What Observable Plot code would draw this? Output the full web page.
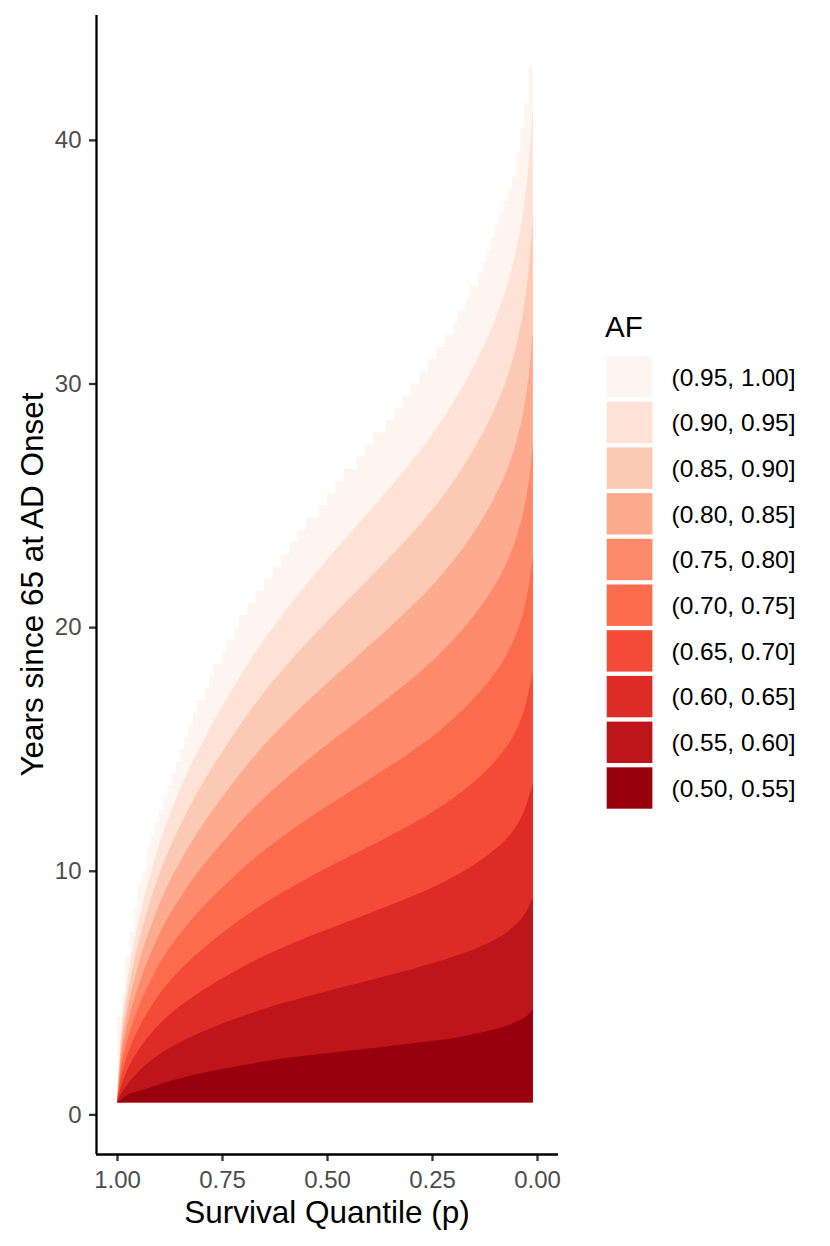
<!DOCTYPE html>
<html><head><meta charset="utf-8">
<script src="https://cdn.jsdelivr.net/npm/d3@7"></script>
<script src="https://cdn.jsdelivr.net/npm/@observablehq/plot@0.6"></script>
<style>
body{margin:0;background:#fff;}
#wrap{position:relative;width:830px;height:1246px;}
</style></head><body><div id="wrap"></div>
<script>
// ---- data ----
const quantiles = [1.00,0.99,0.98,0.97,0.96,0.95,0.94,0.92,0.90,0.87,0.84,0.80,0.75,0.70,0.65,0.60,0.55,0.50,0.45,0.40,0.35,0.30,0.25,0.20,0.15,0.10,0.07,0.05,0.03,0.02,0.01];
const floorYears = 0.5;
const bound55 = [0.5,0.6,0.75,0.85,0.9,0.95,1.0,1.1,1.23,1.39,1.53,1.69,1.86,2.02,2.17,2.3,2.41,2.51,2.61,2.71,2.81,2.91,3.01,3.13,3.3,3.5,3.65,3.8,3.97,4.1,4.3];
const bound60 = [0.5,0.85,1.10,1.35,1.56,1.74,1.91,2.20,2.46,2.78,3.05,3.37,3.72,4.04,4.33,4.59,4.83,5.06,5.28,5.50,5.72,5.95,6.20,6.47,6.78,7.18,7.50,7.80,8.20,8.50,8.90];
const bound65 = [0.5,1.17,1.65,2.03,2.34,2.61,2.87,3.30,3.69,4.17,4.58,5.06,5.58,6.06,6.50,6.89,7.25,7.59,7.92,8.25,8.58,8.93,9.30,9.74,10.25,10.88,11.37,11.82,12.48,12.99,13.6];
const bound70 = [0.5,1.56,2.20,2.70,3.12,3.48,3.82,4.40,4.92,5.56,6.10,6.74,7.44,8.08,8.66,9.18,9.66,10.12,10.56,11.00,11.44,11.90,12.40,12.98,13.66,14.50,15.16,15.76,16.64,17.32,18.2];
const bound75 = [0.5,1.95,2.75,3.38,3.90,4.35,4.78,5.50,6.15,6.95,7.63,8.43,9.30,10.10,10.83,11.48,12.08,12.65,13.20,13.75,14.30,14.88,15.50,16.23,17.08,18.13,18.95,19.70,20.80,21.65,22.9];
const bound80 = [0.5,2.34,3.30,4.05,4.68,5.22,5.73,6.60,7.38,8.34,9.15,10.11,11.16,12.12,12.99,13.77,14.49,15.18,15.84,16.50,17.16,17.85,18.60,19.47,20.49,21.75,22.74,23.64,24.96,25.98,27.5];
const bound85 = [0.5,2.73,3.85,4.73,5.46,6.09,6.69,7.70,8.61,9.73,10.68,11.80,13.02,14.14,15.16,16.07,16.91,17.71,18.48,19.25,20.02,20.83,21.70,22.72,23.91,25.38,26.53,27.58,29.12,30.31,32.1];
const bound90 = [0.5,3.12,4.40,5.40,6.24,6.96,7.64,8.80,9.84,11.12,12.20,13.48,14.88,16.16,17.32,18.36,19.32,20.24,21.12,22.00,22.88,23.80,24.80,25.96,27.32,29.00,30.32,31.52,33.28,34.64,36.8];
const bound95 = [0.5,3.51,4.95,6.08,7.02,7.83,8.60,9.90,11.07,12.51,13.73,15.17,16.74,18.18,19.49,20.66,21.74,22.77,23.76,24.75,25.74,26.78,27.90,29.21,30.74,32.63,34.11,35.46,37.44,38.97,41.4];

// staircase outline of the lightest band: column edges and column tops (years)
const topEdges = [1.00,0.99,0.98,0.97,0.96,0.95,0.94,0.93,0.92,0.91,0.90,0.89,0.88,0.87,0.86,0.85,0.84,0.83,0.82,0.81,0.80,0.79,0.78,0.77,0.76,0.75,0.74,0.73,0.72,0.71,0.70,0.69,0.68,0.67,0.66,0.65,0.64,0.63,0.62,0.61,0.60,0.59,0.58,0.57,0.56,0.55,0.54,0.53,0.52,0.51,0.50,0.49,0.48,0.47,0.46,0.45,0.44,0.43,0.42,0.41,0.40,0.39,0.38,0.37,0.36,0.35,0.34,0.33,0.32,0.31,0.30,0.29,0.28,0.27,0.26,0.25,0.24,0.23,0.22,0.21,0.20,0.19,0.18,0.17,0.16,0.15,0.14,0.13,0.12,0.11,0.10,0.09,0.08,0.07,0.06,0.05,0.04,0.03,0.02,0.01];
const topYears = [4.0,5.0,6.5,7.5,8.5,9.5,10.0,11.0,11.5,12.0,12.5,13.0,13.5,14.0,14.5,15.0,15.5,16.0,16.5,17.0,17.0,17.5,18.0,18.5,18.5,19.0,19.5,19.5,20.0,20.5,20.5,21.0,21.0,21.5,21.5,22.0,22.0,22.5,22.5,23.0,23.0,23.5,23.5,24.0,24.0,24.5,24.5,24.5,25.0,25.0,25.5,25.5,26.0,26.0,26.5,26.5,26.5,27.0,27.0,27.5,27.5,28.0,28.0,28.0,28.5,28.5,29.0,29.0,29.5,29.5,30.0,30.0,30.5,30.5,31.0,31.0,31.5,31.5,32.0,32.0,32.5,33.0,33.0,33.5,34.0,34.0,34.5,35.0,35.5,36.0,36.5,37.0,37.5,38.0,38.5,39.5,40.5,41.5,43.0];

const afLabels = ["(0.95, 1.00]","(0.90, 0.95]","(0.85, 0.90]","(0.80, 0.85]","(0.75, 0.80]","(0.70, 0.75]","(0.65, 0.70]","(0.60, 0.65]","(0.55, 0.60]","(0.50, 0.55]"];
const afColors = ["#FFF5F0","#FEE2D5","#FCC9B5","#FCAB8F","#FC8A6B","#FB6B4C","#F34B37","#DD2B25","#BD151A","#99000D"];
const xTicks = [1.00,0.75,0.50,0.25,0.00];
const yTicks = [0,10,20,30,40];
const xDomain = [1.05,-0.05];
const yDomain = [-1.625,45.125];

// ---- build tables ----
const upperBounds = [bound95,bound90,bound85,bound80,bound75,bound70,bound65,bound60,bound55]; // light -> dark
const topRows = topEdges.map((p,i)=>({p, top: topYears[Math.min(i, topYears.length-1)]}));
const bandMarks = upperBounds.map((arr,k)=>Plot.areaY(
  quantiles.map((p,i)=>({p, lo: floorYears, hi: arr[i]})),
  {x:"p", y1:"lo", y2:"hi", fill: afColors[k+1], curve:"monotone-x"}
));

const FONT = '"Liberation Sans", Arial, Helvetica, sans-serif';
const chart = Plot.plot({
  width: 830, height: 1246,
  marginLeft: 96, marginRight: 272, marginTop: 15, marginBottom: 92,
  style: {fontFamily: FONT, fontSize: "24px", background: "white", overflow: "visible"},
  x: {domain: xDomain, ticks: xTicks, tickFormat: d => d.toFixed(2), tickSize: 7, tickPadding: 9, label: null},
  y: {domain: yDomain, ticks: yTicks, tickSize: 7, tickPadding: 8, label: null},
  marks: [
    Plot.areaY(topRows, {x:"p", y1: () => floorYears, y2:"top", fill: afColors[0], curve:"step-after"}),
    ...bandMarks,
    Plot.ruleY([yDomain[0]], {stroke:"black", strokeWidth: 2.3}),
    Plot.ruleX([xDomain[0]], {stroke:"black", strokeWidth: 2.3})
  ]
});

const svg = d3.select(chart);
svg.selectAll('[aria-label^="x-axis"] text, [aria-label^="y-axis"] text')
  .attr("fill", "#4D4D4D").style("font-size", "24px").style("font-family", FONT);
svg.selectAll('[aria-label^="x-axis"] path, [aria-label^="x-axis"] line, [aria-label^="y-axis"] path, [aria-label^="y-axis"] line')
  .attr("stroke", "#333333").attr("stroke-width", 2.3);

// axis titles
svg.append("text").attr("x", 327).attr("y", 1223).attr("text-anchor","middle")
  .style("font-family", FONT).style("font-size","31.5px").attr("fill","black")
  .text("Survival Quantile (p)");
svg.append("text").attr("transform","translate(43,584.5) rotate(-90)").attr("text-anchor","middle")
  .style("font-family", FONT).style("font-size","31.5px").attr("fill","black")
  .text("Years since 65 at AD Onset");

// legend
const lg = svg.append("g").attr("aria-label","legend").attr("text-anchor","start");
lg.append("text").attr("x",605).attr("y",337).attr("text-anchor","start")
  .style("font-family",FONT).style("font-size","29.5px").attr("fill","black").text("AF");
afLabels.forEach((lab,i)=>{
  const top = 356 + i*45.7;
  lg.append("rect").attr("x",606.7).attr("y",top).attr("width",45.7).attr("height",41.4).attr("fill",afColors[i]);
  lg.append("text").attr("x",671.5).attr("y",top+20.7).attr("dy","0.36em").attr("text-anchor","start")
    .style("font-family",FONT).style("font-size","24.5px").attr("fill","black").text(lab);
});

document.getElementById("wrap").appendChild(chart);
</script>
</body></html>
